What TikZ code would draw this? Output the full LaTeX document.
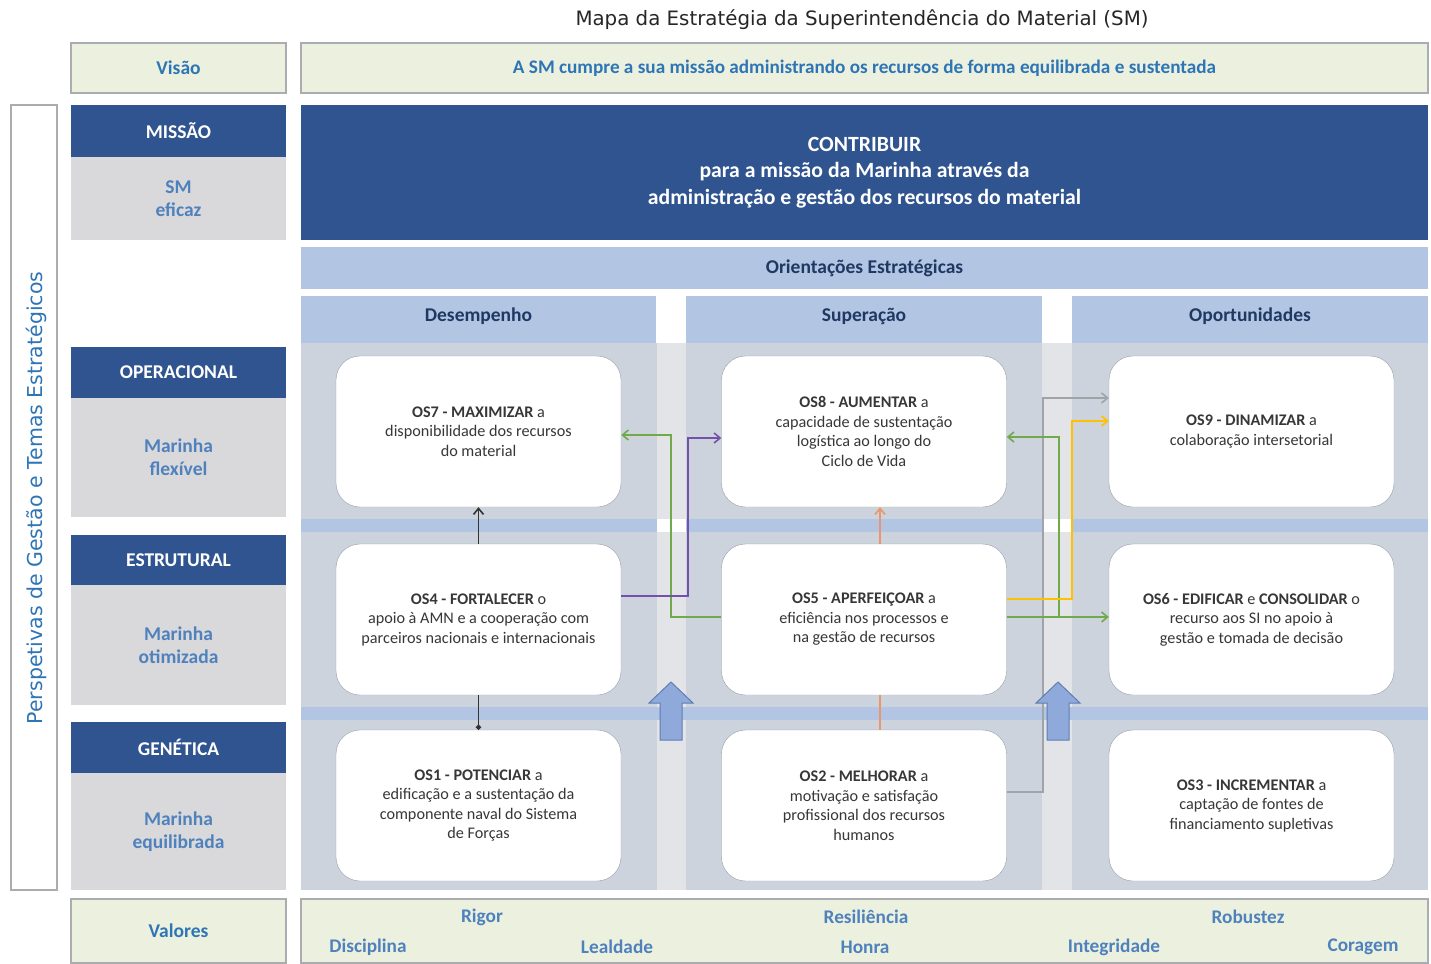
\documentclass[tikz,border=0pt]{standalone}
\usepackage{fontspec}
\setmainfont{Carlito}
\newfontfamily\titlefont{DejaVu Sans}
\usetikzlibrary{arrows.meta}

\newcommand{\setfs}[2]{\fontsize{#1}{#2}\selectfont}

\definecolor{navy}{RGB}{47,84,143}
\definecolor{lblgray}{RGB}{217,217,219}
\definecolor{lblblue}{RGB}{79,129,189}
\definecolor{txtblue}{RGB}{46,117,182}
\definecolor{bandblue}{RGB}{178,197,226}
\definecolor{hdrtext}{RGB}{31,56,100}
\definecolor{colgray}{RGB}{205,211,221}
\definecolor{gapgray}{RGB}{227,228,231}
\definecolor{beige}{RGB}{236,241,223}
\definecolor{edgegray}{RGB}{170,172,175}
\definecolor{boxedge}{RGB}{150,156,168}
\definecolor{boxtext}{RGB}{55,55,55}
\definecolor{titlegray}{RGB}{38,38,38}
\definecolor{arrowblue}{RGB}{143,170,218}
\definecolor{arrowedge}{RGB}{95,125,180}
\definecolor{orangel}{RGB}{233,150,110}
\definecolor{greenl}{RGB}{112,170,75}
\definecolor{purplel}{RGB}{115,80,170}
\definecolor{yellowl}{RGB}{255,192,0}
\definecolor{grayl}{RGB}{160,163,168}

\tikzset{
  cell/.style={inner sep=0pt, align=center, font=\setfs{19.5}{23}\bfseries},
  hdr/.style={cell, fill=navy, text=white, minimum width=215, minimum height=51},
  lbl/.style={cell, fill=lblgray, text=lblblue, minimum width=215},
  band/.style={cell, fill=bandblue, text=hdrtext},
  beigebox/.style={cell, fill=beige, draw=edgegray, line width=1.2, text=txtblue},
  osbox/.style={draw=boxedge, fill=white, rounded corners=24, minimum width=285,
    minimum height=151, inner sep=0pt, align=center, text=boxtext, font=\setfs{16.2}{19.5}},
  link/.style={line width=1.6, -{Straight Barb[length=6pt,width=10pt]}},
}

\begin{document}
\begin{tikzpicture}[x=1pt,y=-1pt]
\useasboundingbox (0,0) rectangle (1431,963);

\node[font=\titlefont\setfs{19.8}{23}, text=titlegray] (title) at (862,20)
  {Mapa da Estratégia da Superintendência do Material (SM)};

\node[beigebox, minimum width=215, minimum height=50] (visao) at (178.5,68) {Visão};
\node[beigebox, minimum width=1127, minimum height=50, font=\setfs{19.2}{23}\bfseries]
  (visaotxt) at (864.5,68)
  {A SM cumpre a sua missão administrando os recursos de forma equilibrada e sustentada};
\node[beigebox, minimum width=215, minimum height=64] (valores) at (178.5,931) {Valores};
\node[beigebox, minimum width=1127, minimum height=64] (valtxt) at (864.5,931) {};

\node[draw=edgegray, line width=1.5, fill=white, minimum width=46, minimum height=785,
  inner sep=0pt] (frame) at (34,497.5) {};
\node[rotate=90, font=\titlefont\setfs{20.5}{24}, text=txtblue] (persp) at (36,498)
  {Perspetivas de Gestão e Temas Estratégicos};

\node[hdr, minimum height=52] (missh) at (178.5,131) {MISSÃO};
\node[lbl, minimum height=83] (missl) at (178.5,198.5) {SM\\eficaz};
\node[hdr] (operh) at (178.5,372.5) {OPERACIONAL};
\node[lbl, minimum height=119] (operl) at (178.5,457.5) {Marinha\\flexível};
\node[hdr, minimum height=50] (estrh) at (178.5,560) {ESTRUTURAL};
\node[lbl, minimum height=120] (estrl) at (178.5,645) {Marinha\\otimizada};
\node[hdr] (geneh) at (178.5,747.5) {GENÉTICA};
\node[lbl, minimum height=117] (genel) at (178.5,831.5) {Marinha\\equilibrada};

\node[cell, fill=navy, text=white, minimum width=1127, minimum height=135,
  font=\setfs{21.7}{26.5}\bfseries] (missao) at (864.5,172.5)
  {CONTRIBUIR\\para a missão da Marinha através da\\administração e gestão dos recursos do material};

\node[band, minimum width=1127, minimum height=42] (orient) at (864.5,268) {Orientações Estratégicas};
\node[band, minimum width=355, minimum height=47, text depth=9] (desemp) at (478.5,319.5) {Desempenho};
\node[band, minimum width=356, minimum height=47, text depth=9] (super) at (864,319.5) {Superação};
\node[band, minimum width=356, minimum height=47, text depth=9] (oport) at (1250,319.5) {Oportunidades};

\fill[gapgray] (301,343) rectangle (1428,890);
\foreach \x in {301,686,1072}
  \fill[colgray] (\x,343) rectangle ++(356,547);
\fill[bandblue] (301,519) rectangle (1428,532);
\fill[bandblue] (301,707) rectangle (1428,720);
\fill[white] (657,519) rectangle (686,532);
\fill[white] (1043,519) rectangle (1072,532);

\node[osbox] (os7) at (478.5,431.5) {\textbf{OS7 - MAXIMIZAR} a\\disponibilidade dos recursos\\do material};
\node[osbox] (os8) at (864,431.5) {\textbf{OS8 - AUMENTAR} a\\capacidade de sustentação\\logística ao longo do\\Ciclo de Vida};
\node[osbox] (os9) at (1251.5,431.5) {\textbf{OS9 - DINAMIZAR} a\\colaboração intersetorial};
\node[osbox] (os4) at (478.5,619.5) {\textbf{OS4 - FORTALECER} o\\apoio à AMN e a cooperação com\\parceiros nacionais e internacionais};
\node[osbox] (os5) at (864,619.5) {\textbf{OS5 - APERFEIÇOAR} a\\eficiência nos processos e\\na gestão de recursos};
\node[osbox] (os6) at (1251.5,619.5) {\textbf{OS6 - EDIFICAR} e \textbf{CONSOLIDAR} o\\recurso aos SI no apoio à\\gestão e tomada de decisão};
\node[osbox] (os1) at (478.5,805.5) {\textbf{OS1 - POTENCIAR} a\\edificação e a sustentação da\\componente naval do Sistema\\de Forças};
\node[osbox] (os2) at (864,805.5) {\textbf{OS2 - MELHORAR} a\\motivação e satisfação\\profissional dos recursos\\humanos};
\node[osbox] (os3) at (1251.5,805.5) {\textbf{OS3 - INCREMENTAR} a\\captação de fontes de\\financiamento supletivas};

\coordinate (g1) at (671,617);
\coordinate (g2) at (671,435);
\coordinate (p1) at (688,596);
\coordinate (p2) at (688,438);
\coordinate (g3) at (1059,617);
\coordinate (g4) at (1059,437);
\coordinate (y1) at (1072,599);
\coordinate (y2) at (1072,421);
\coordinate (k1) at (1043,792);
\coordinate (k2) at (1043,398);

\draw[link, black!80] (os4.north) -- (os7.south);
\draw[line width=1.6, black!80, {Circle[length=5pt]}-] (os1.north) -- (os4.south);
\draw[link, orangel] ([xshift=16]os5.north) -- ([xshift=16]os8.south);
\draw[line width=1.6, orangel] ([xshift=16]os2.north) -- ([xshift=16]os5.south);
\draw[link, grayl] (os2.east |- k1) -- (k1) -- (k2) -- (os9.west |- k2);
\draw[link, greenl] (os5.west |- g1) -- (g1) -- (g2) -- (os7.east |- g2);
\draw[link, purplel] (os4.east |- p1) -- (p1) -- (p2) -- (os8.west |- p2);
\draw[link, greenl] (os5.east |- g3) -- (os6.west |- g3);
\draw[link, greenl] (g3) -- (g4) -- (os8.east |- g4);
\draw[link, yellowl] (os5.east |- y1) -- (y1) -- (y2) -- (os9.west |- y2);

\foreach \x in {671,1058}
  \filldraw[fill=arrowblue, draw=arrowedge, line width=1]
    (\x-11,740) -- (\x-11,703) -- (\x-22,703) -- (\x,682) -- (\x+22,703)
    -- (\x+11,703) -- (\x+11,740) -- cycle;

\begin{scope}[text=lblblue, font=\setfs{19.3}{23}\bfseries]
\node (v1) at (482,917) {Rigor};
\node (v2) at (866,917) {Resiliência};
\node (v3) at (1248,917) {Robustez};
\node (v4) at (368,947) {Disciplina};
\node (v5) at (617,947) {Lealdade};
\node (v6) at (865,947) {Honra};
\node (v7) at (1114,947) {Integridade};
\node (v8) at (1363,947) {Coragem};
\end{scope}

\end{tikzpicture}
\end{document}
